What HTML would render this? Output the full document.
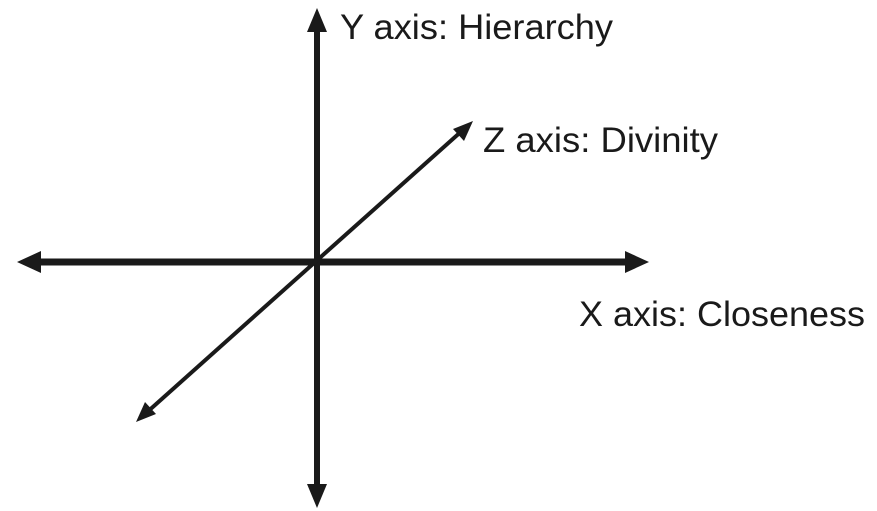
<!DOCTYPE html>
<html><head><style>html,body{margin:0;padding:0;background:#fff;width:877px;height:511px;overflow:hidden}</style></head>
<body>
<svg width="877" height="511" viewBox="0 0 877 511" xmlns="http://www.w3.org/2000/svg">
<g stroke="#1a1a1a" fill="#1a1a1a">
<line x1="317" y1="24" x2="317" y2="492" stroke-width="6"/>
<polygon points="317,8 307,32 327,32" stroke="none"/>
<polygon points="317,508 307,484 327,484" stroke="none"/>
<line x1="32" y1="262" x2="634" y2="262" stroke-width="7"/>
<polygon points="17,262 41,251 41,273" stroke="none"/>
<polygon points="649,262 625,251 625,273" stroke="none"/>
<line x1="145" y1="414" x2="464" y2="129" stroke-width="4"/>
<polygon points="473,121 453,129 464,141" stroke="none"/>
<polygon points="136,422 156,414 145,402" stroke="none"/>
</g>
<g font-family="Liberation Sans, Arial, sans-serif" font-size="35" fill="#1a1a1a">
<text x="340" y="39" textLength="273" lengthAdjust="spacingAndGlyphs">Y axis: Hierarchy</text>
<text x="483" y="152" textLength="235" lengthAdjust="spacingAndGlyphs">Z axis: Divinity</text>
<text x="579" y="326" textLength="286" lengthAdjust="spacingAndGlyphs">X axis: Closeness</text>
</g>
</svg>
</body></html>
